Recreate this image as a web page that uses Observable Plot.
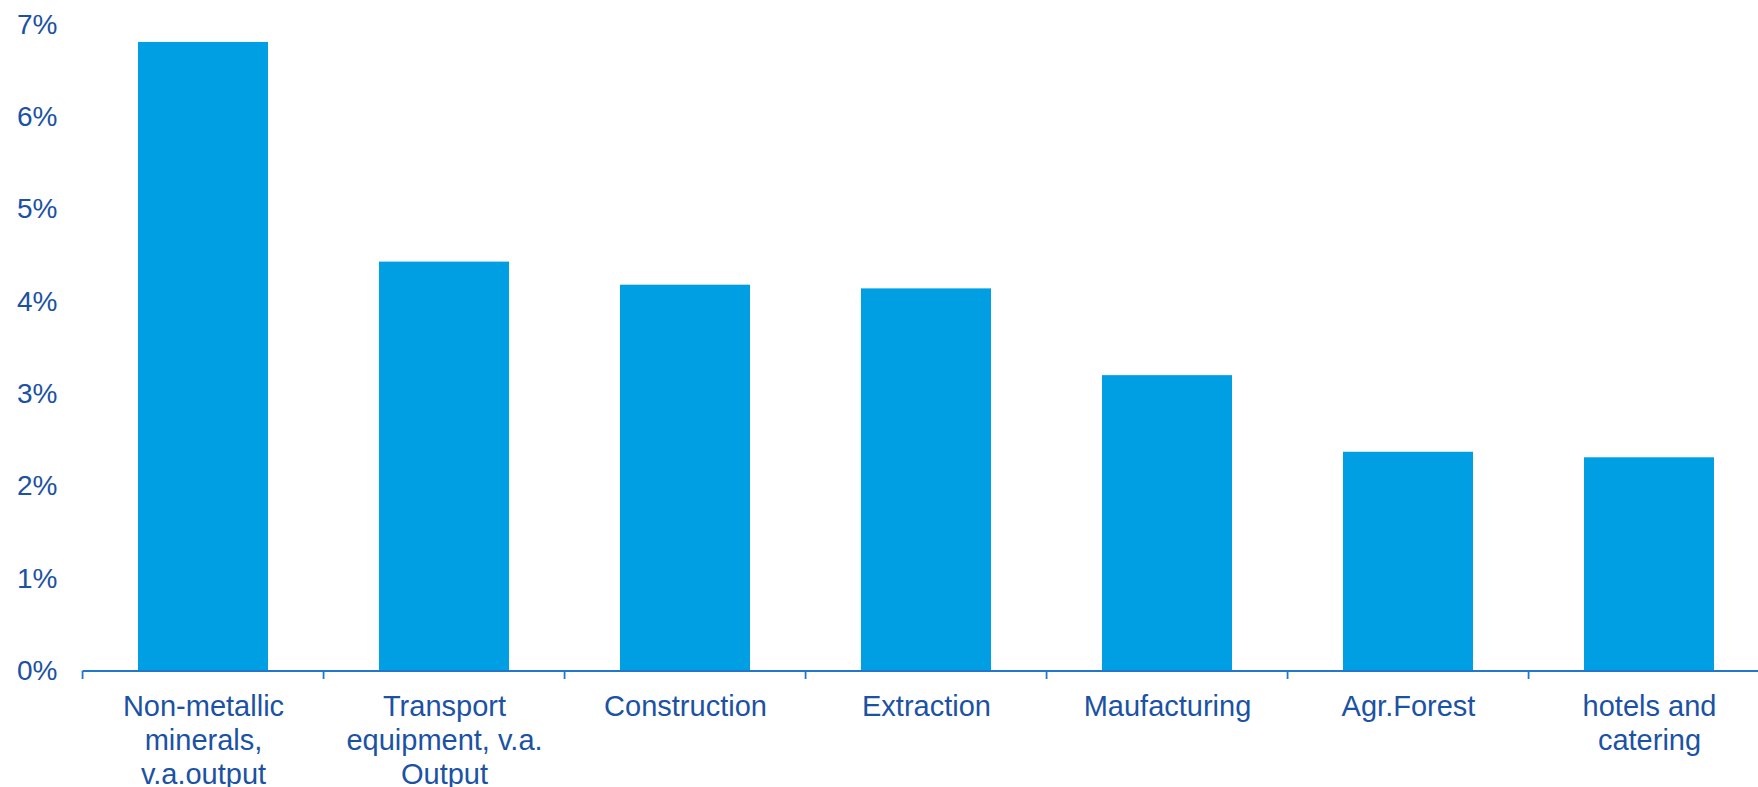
<!DOCTYPE html>
<html>
<head>
<meta charset="utf-8">
<script src="https://cdn.jsdelivr.net/npm/d3@7"></script>
<script src="https://cdn.jsdelivr.net/npm/@observablehq/plot@0.6"></script>
<style>
  html, body { margin: 0; padding: 0; background: #fff; }
  #chart svg { display: block; }
</style>
</head>
<body>
<div id="chart"></div>
<script>
const categories = ["Non-metallic minerals, v.a.output", "Transport equipment, v.a. Output", "Construction", "Extraction", "Maufacturing", "Agr.Forest", "hotels and catering"];
const labels = ["Non-metallic\nminerals,\nv.a.output", "Transport\nequipment, v.a.\nOutput", "Construction", "Extraction", "Maufacturing", "Agr.Forest", "hotels and\ncatering"];
const values = [6.81, 4.43, 4.18, 4.14, 3.20, 2.37, 2.31];
const yTicks = [0, 1, 2, 3, 4, 5, 6, 7];

const data = categories.map((c, i) => ({category: c, label: labels[i], value: values[i]}));

const textColor = "#1B52A4";
const barColor = "#009FE3";
const axisColor = "#2277CC";
const padInner = 0.46;
const padOuter = padInner / 2;

function boundaryTicks(index, scales, vals, dimensions, context) {
  const x = scales.x, y = scales.y;
  const step = x(categories[1]) - x(categories[0]);
  const ns = "http://www.w3.org/2000/svg";
  const g = context.document.createElementNS(ns, "g");
  const y0 = y(0);
  for (const c of categories) {
    const bx = x(c) - step * padOuter;
    const line = context.document.createElementNS(ns, "line");
    line.setAttribute("x1", bx); line.setAttribute("x2", bx);
    line.setAttribute("y1", y0); line.setAttribute("y2", y0 + 8.5);
    line.setAttribute("stroke", axisColor);
    line.setAttribute("stroke-width", 1.8);
    g.appendChild(line);
  }
  return g;
}

const chart = Plot.plot({
  width: 1758,
  height: 787,
  marginLeft: 83,
  marginRight: 0,
  marginTop: 24.4,
  marginBottom: 116.5,
  style: {fontFamily: "'Liberation Sans', Arial, sans-serif", fontSize: "28px", color: textColor, background: "#fff"},
  x: {domain: categories, range: [83, 1770], paddingInner: padInner, paddingOuter: padOuter, axis: null},
  y: {domain: [0, 7], axis: null},
  marks: [
    Plot.barY(data, {x: "category", y: "value", fill: barColor}),
    Plot.ruleY([0], {stroke: axisColor, strokeWidth: 1.8}),
    boundaryTicks,
    Plot.axisY(yTicks, {anchor: "left", label: null, tickSize: 0, tickPadding: 26, tickFormat: d => d + "%", fill: textColor, fontSize: 28}),
    Plot.text(data, {x: "category", text: "label", frameAnchor: "bottom", lineAnchor: "top", dy: 21.5, lineHeight: 1.16, fill: textColor, fontSize: 29})
  ]
});
document.getElementById("chart").appendChild(chart);
</script>
</body>
</html>
